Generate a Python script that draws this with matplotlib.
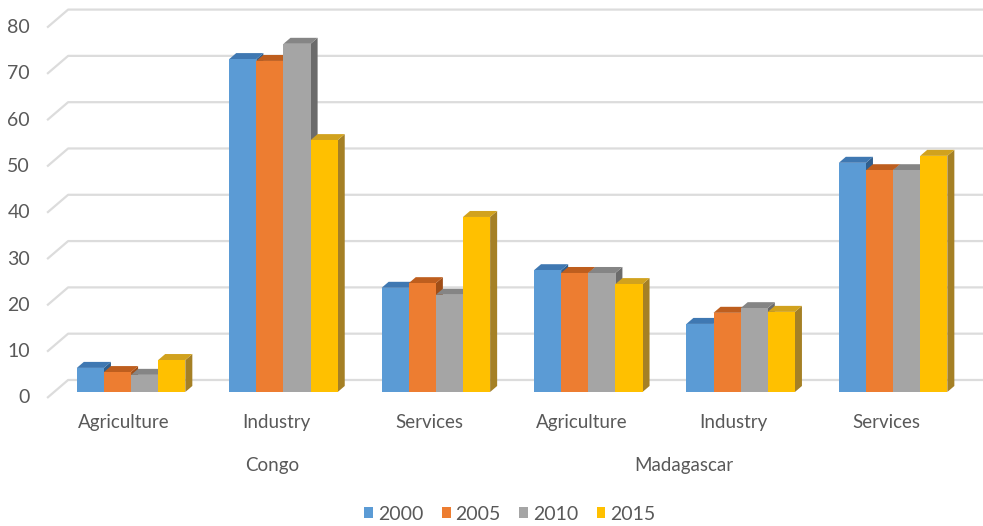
import matplotlib.pyplot as plt
from matplotlib.patches import Polygon, Patch

# employment share by sector (%)
countries = ['Congo', 'Madagascar']
sectors = ['Agriculture', 'Industry', 'Services', 'Agriculture', 'Industry', 'Services']
years = ['2000', '2005', '2010', '2015']
v2000 = [5.2, 71.9, 22.5, 26.3, 14.7, 49.5]
v2005 = [4.3, 71.5, 23.5, 25.7, 17.1, 47.9]
v2010 = [3.7, 75.2, 21.0, 25.7, 18.1, 47.9]
v2015 = [6.9, 54.4, 37.8, 23.3, 17.3, 51.0]
series = [v2000, v2005, v2010, v2015]
yticks = [0, 10, 20, 30, 40, 50, 60, 70, 80]

front = ['#5B9BD5', '#ED7D31', '#A5A5A5', '#FFC000']
top = ['#3F78B2', '#BE5E1E', '#858585', '#D1A21E']
side = ['#2F5F8E', '#A04E17', '#6B6B6B', '#A58025']
txt = '#595959'
grid = '#DCDCDC'

# fake 3d: depth of the whole wall in data units
DX, DY = 0.138, 3.89
bw = 0.178
bar_off = 1 / 3      # depth of the bar front
bar_dep = 1 / 3      # thickness of the bars

fig = plt.figure(figsize=(9.83, 5.26), dpi=100)
ax = fig.add_axes([0, 0, 1, 1])
ax.set_xlim(-0.814, 5.636)
ax.set_ylim(-27.65, 85.96)
ax.axis('off')

# back wall gridlines with short slanted floor edge
xl = -0.505
for t in yticks:
    ax.plot([xl, xl + DX, 6], [t, t + DY, t + DY], color=grid, lw=1.6, zorder=1,
            solid_capstyle='butt')
    ax.text(xl - 0.112, t, str(t), ha='right', va='center', fontsize=14,
            color=txt, family='Lato')

ox, oy = DX * bar_off, DY * bar_off
sx, sy = DX * bar_dep, DY * bar_dep
z = 2
for i in range(len(sectors)):
    for j, vals in enumerate(series):
        v = vals[i]
        x0 = i - 2 * bw + j * bw + ox
        x1 = x0 + bw
        ax.add_patch(Polygon([(x1, oy), (x1 + sx, oy + sy), (x1 + sx, oy + v + sy), (x1, oy + v)],
                             closed=True, facecolor=side[j], edgecolor='none', zorder=z))
        ax.add_patch(Polygon([(x0, oy + v), (x0 + sx, oy + v + sy), (x1 + sx, oy + v + sy), (x1, oy + v)],
                             closed=True, facecolor=top[j], edgecolor='none', zorder=z))
        ax.bar(x0, v, width=bw, bottom=oy, align='edge', color=front[j], edgecolor='none', zorder=z)
        z += 1

for i, s in enumerate(sectors):
    ax.text(i, -5.4, s, ha='center', va='center', fontsize=13.5, color=txt, family='Lato')

ax.text(0.97, -14.5, countries[0], ha='center', va='center', fontsize=13.5, color=txt, family='Lato')
ax.text(3.67, -14.5, countries[1], ha='center', va='center', fontsize=13.5, color=txt, family='Lato')

handles = [Patch(facecolor=c, edgecolor='none') for c in front]
leg = fig.legend(handles, years, loc='center', bbox_to_anchor=(510 / 983, 1 - 514 / 526),
                 ncol=4, frameon=False, handlelength=0.45, handleheight=0.45,
                 handletextpad=0.25, columnspacing=0.95, prop={'family': 'Lato', 'size': 14})
for t in leg.get_texts():
    t.set_color(txt)

fig.savefig('out.png', dpi=100)
